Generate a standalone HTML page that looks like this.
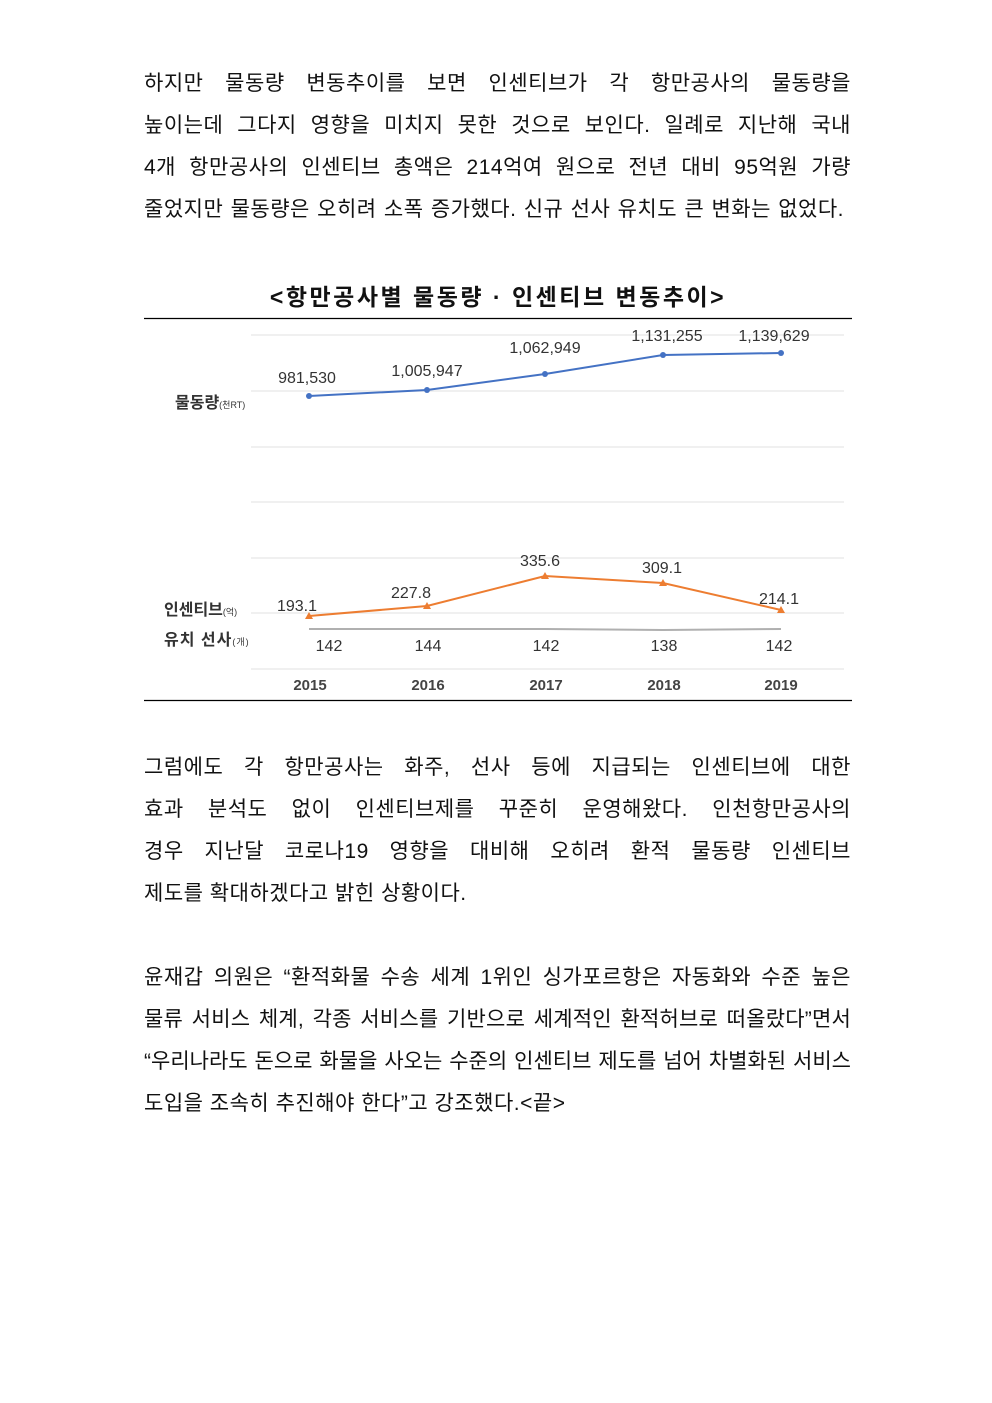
<!DOCTYPE html>
<html><head><meta charset="utf-8"><style>
body{margin:0;background:#fff;width:992px;height:1403px;position:relative;overflow:hidden}
.l{position:absolute;left:144px;width:707px;font-family:"Liberation Sans","Noto Sans CJK KR",sans-serif;font-size:21px;letter-spacing:0.5px;color:#111;text-align:justify;text-align-last:justify;white-space:nowrap;line-height:28px}
.l.s{text-align-last:left}
svg{position:absolute;left:0;top:0}
</style></head><body>
<div class="l" style="top:70px">하지만 물동량 변동추이를 보면 인센티브가 각 항만공사의 물동량을</div>
<div class="l" style="top:112px">높이는데 그다지 영향을 미치지 못한 것으로 보인다. 일례로 지난해 국내</div>
<div class="l" style="top:154px">4개 항만공사의 인센티브 총액은 214억여 원으로 전년 대비 95억원 가량</div>
<div class="l" style="top:196px;width:700px">줄었지만 물동량은 오히려 소폭 증가했다. 신규 선사 유치도 큰 변화는 없었다.</div>

<div class="l" style="top:754px">그럼에도 각 항만공사는 화주, 선사 등에 지급되는 인센티브에 대한</div>
<div class="l" style="top:796px">효과 분석도 없이 인센티브제를 꾸준히 운영해왔다. 인천항만공사의</div>
<div class="l" style="top:838px">경우 지난달 코로나19 영향을 대비해 오히려 환적 물동량 인센티브</div>
<div class="l s" style="top:880px">제도를 확대하겠다고 밝힌 상황이다.</div>

<div class="l" style="top:964px">윤재갑 의원은 “환적화물 수송 세계 1위인 싱가포르항은 자동화와 수준 높은</div>
<div class="l" style="top:1006px;letter-spacing:0.2px">물류 서비스 체계, 각종 서비스를 기반으로 세계적인 환적허브로 떠올랐다”면서</div>
<div class="l" style="top:1048px;letter-spacing:0;word-spacing:-2px">“우리나라도 돈으로 화물을 사오는 수준의 인센티브 제도를 넘어 차별화된 서비스</div>
<div class="l s" style="top:1090px">도입을 조속히 추진해야 한다”고 강조했다.&lt;끝&gt;</div>

<svg width="992" height="1403" font-family="Liberation Sans,Noto Sans CJK KR,sans-serif">
<text x="498" y="305" text-anchor="middle" font-size="23" font-weight="bold" letter-spacing="2.5" fill="#111">&lt;항만공사별 물동량 · 인센티브 변동추이&gt;</text>
<line x1="144" y1="318.5" x2="852" y2="318.5" stroke="#000" stroke-width="1.2"/>
<line x1="144" y1="700.5" x2="852" y2="700.5" stroke="#000" stroke-width="1.2"/>
<g stroke="#ececec" stroke-width="1.5">
<line x1="251" y1="335" x2="844" y2="335"/><line x1="251" y1="391" x2="844" y2="391"/>
<line x1="251" y1="447" x2="844" y2="447"/><line x1="251" y1="502" x2="844" y2="502"/>
<line x1="251" y1="558" x2="844" y2="558"/><line x1="251" y1="613" x2="844" y2="613"/>
<line x1="251" y1="669" x2="844" y2="669"/></g>
<polyline points="309,396 427,390 545,374 663,355 781,353" fill="none" stroke="#4472c4" stroke-width="2"/>
<g fill="#4472c4"><circle cx="309" cy="396" r="3"/><circle cx="427" cy="390" r="3"/><circle cx="545" cy="374" r="3"/><circle cx="663" cy="355" r="3"/><circle cx="781" cy="353" r="3"/></g>
<polyline points="309,616 427,606 545,576 663,583 781,610" fill="none" stroke="#ed7d31" stroke-width="2"/>
<g fill="#ed7d31"><path d="M309,612 l4,7 h-8z"/><path d="M427,602 l4,7 h-8z"/><path d="M545,572 l4,7 h-8z"/><path d="M663,579 l4,7 h-8z"/><path d="M781,606 l4,7 h-8z"/></g>
<polyline points="309,629 427,629 545,629 663,630 781,629" fill="none" stroke="#b0b0b0" stroke-width="2"/>
<g font-size="16" fill="#333" text-anchor="middle">
<text x="307" y="383">981,530</text><text x="427" y="376">1,005,947</text><text x="545" y="353">1,062,949</text><text x="667" y="341">1,131,255</text><text x="774" y="341">1,139,629</text>
<text x="297" y="611">193.1</text><text x="411" y="598">227.8</text><text x="540" y="566">335.6</text><text x="662" y="573">309.1</text><text x="779" y="604">214.1</text>
<text x="329" y="651">142</text><text x="428" y="651">144</text><text x="546" y="651">142</text><text x="664" y="651">138</text><text x="779" y="651">142</text>
</g>
<g font-size="15" font-weight="bold" fill="#444" text-anchor="middle">
<text x="310" y="690">2015</text><text x="428" y="690">2016</text><text x="546" y="690">2017</text><text x="664" y="690">2018</text><text x="781" y="690">2019</text></g>
<g fill="#333"><text x="175" y="408" font-size="16" font-weight="bold">물동량<tspan font-size="9" font-weight="normal">(천RT)</tspan></text>
<text x="164" y="615" font-size="16" font-weight="bold">인센티브<tspan font-size="9" font-weight="normal">(억)</tspan></text>
<text x="164" y="645" font-size="16" font-weight="bold" letter-spacing="1">유치 선사<tspan font-size="9" font-weight="normal">(개)</tspan></text></g>
</svg>
</body></html>
